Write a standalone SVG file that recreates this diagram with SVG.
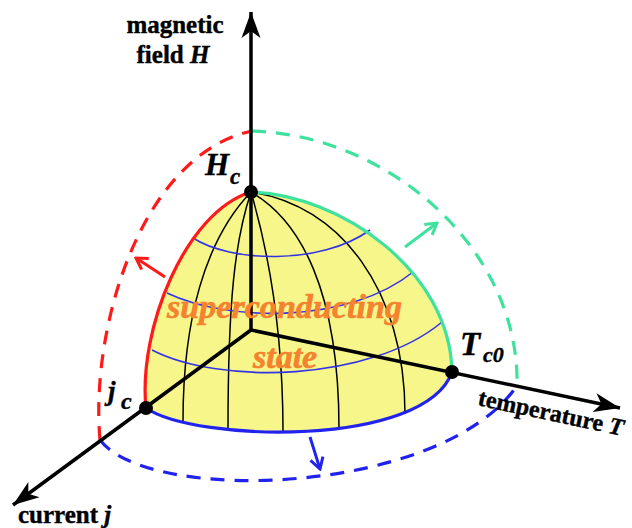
<svg xmlns="http://www.w3.org/2000/svg" width="632" height="528" viewBox="0 0 632 528">
<style>
.lbl{font-family:"Liberation Serif","Times New Roman",serif;font-weight:bold;fill:#000;stroke:#000;stroke-width:0.4}
.it{font-style:italic}
.dash{fill:none;stroke-width:3.2;stroke-dasharray:14 10}
.mer{fill:none;stroke:#000;stroke-width:1.5}
.lat{fill:none;stroke:#3333e6;stroke-width:1.6}
.axis{fill:none;stroke:#000;stroke-width:3.5}
.edge{fill:none;stroke-width:3.2;stroke-linecap:round}
.sc{font-family:"Liberation Serif","Times New Roman",serif;font-weight:bold;font-style:italic;fill:#f5822e;stroke:#f5822e;stroke-width:0.6}
</style>
<defs>
<marker id="ax" markerUnits="userSpaceOnUse" markerWidth="30" markerHeight="24" refX="2" refY="0" viewBox="-26 -12 30 24" orient="auto">
<path d="M2,0 L-24,-9.5 L-17,0 L-24,9.5 Z" fill="#000"/>
</marker>
<marker id="ar" markerUnits="userSpaceOnUse" markerWidth="16" markerHeight="16" refX="0" refY="0" viewBox="-14 -8 16 16" orient="auto">
<path d="M-11,-6.5 L0,0 L-11,6.5" fill="none" stroke="#ff1a1a" stroke-width="3"/>
</marker>
<marker id="ag" markerUnits="userSpaceOnUse" markerWidth="16" markerHeight="16" refX="0" refY="0" viewBox="-14 -8 16 16" orient="auto">
<path d="M-11,-6.5 L0,0 L-11,6.5" fill="none" stroke="#3ee29e" stroke-width="3"/>
</marker>
<marker id="ab" markerUnits="userSpaceOnUse" markerWidth="16" markerHeight="16" refX="0" refY="0" viewBox="-14 -8 16 16" orient="auto">
<path d="M-11,-6.5 L0,0 L-11,6.5" fill="none" stroke="#2222ee" stroke-width="3"/>
</marker>
</defs>
<rect width="632" height="528" fill="#fff"/>

<g id="connectors">
<path class="dash" stroke="#ff1a1a" d="M100,440 C90,330 140,155 252,131"/>
<path class="dash" stroke="#3ee29e" d="M252,131 C390,135 520,250 517,386"/>
<path class="dash" stroke="#2222ee" d="M100,440 C150,505 440,495 516,387"/>
<line x1="165" y1="277" x2="136" y2="258" stroke="#ff1a1a" stroke-width="3" marker-end="url(#ar)"/>
<line x1="405" y1="247" x2="437" y2="223" stroke="#3ee29e" stroke-width="3" marker-end="url(#ag)"/>
<line x1="310" y1="437" x2="320" y2="469" stroke="#2222ee" stroke-width="3" marker-end="url(#ab)"/>
</g>

<g id="surface">
<path d="M146,408 C138,330 185,212 251,192 C340,195 450,270 452,372 C425,448 195,442 146,408 Z" fill="#f6f68a"/>
<path class="mer" d="M251,192 C205,240 183,320 183,421"/>
<path class="mer" d="M251,192 C235,240 228,300 228,429"/>
<path class="mer" d="M251,192 C265,240 283,320 283,432"/>
<path class="mer" d="M251,192 C300,220 339,290 339,429"/>
<path class="mer" d="M251,192 C340,205 405,290 405,414"/>
<path class="lat" d="M193,238 C230,262 320,266 370,230"/>
<path class="lat" d="M167,293 C230,323 350,323 413,272"/>
<path class="lat" d="M152,350 C220,385 370,382 442,322"/>
</g>

<g id="axes">
<line class="axis" x1="251" y1="330" x2="251" y2="12" marker-end="url(#ax)"/>
<line class="axis" x1="251" y1="330" x2="13" y2="505" marker-end="url(#ax)"/>
<line class="axis" x1="251" y1="330" x2="620" y2="408" marker-end="url(#ax)"/>
</g>

<g id="edges">
<path class="edge" stroke="#ff1a1a" d="M146,408 C138,330 185,212 251,192"/>
<path class="edge" stroke="#3ee29e" d="M251,192 C340,195 450,270 452,372"/>
<path class="edge" stroke="#2222ee" d="M146,408 C195,442 425,448 452,372"/>
</g>

<g id="label-state">
<text class="sc" x="167" y="318" font-size="33" textLength="235" lengthAdjust="spacingAndGlyphs">superconducting</text>
<text class="sc" x="253" y="368" font-size="34">state</text>
</g>

<g id="node-Hc">
<circle cx="251" cy="192" r="7" fill="#000"/>
<text class="lbl it" x="205" y="175" font-size="31">H</text>
<text class="lbl it" x="230" y="184" font-size="23">c</text>
</g>
<g id="node-jc">
<circle cx="146" cy="408" r="7" fill="#000"/>
<text class="lbl it" x="108" y="400" font-size="27">j</text>
<text class="lbl it" x="121" y="409" font-size="24">c</text>
</g>
<g id="node-Tc0">
<circle cx="452" cy="372" r="7" fill="#000"/>
<text class="lbl it" x="460" y="355" font-size="33">T</text>
<text class="lbl it" x="483" y="362" font-size="22">c0</text>
</g>

<g id="axis-labels">
<text class="lbl" x="175" y="33" font-size="25" text-anchor="middle">magnetic</text>
<text class="lbl" x="173" y="63" font-size="25" text-anchor="middle">field <tspan class="it">H</tspan></text>
<text class="lbl" x="18" y="523" font-size="25">current <tspan class="it">j</tspan></text>
<text class="lbl" font-size="24" transform="translate(477,405) rotate(12)">temperature <tspan class="it">T</tspan></text>
</g>
</svg>
